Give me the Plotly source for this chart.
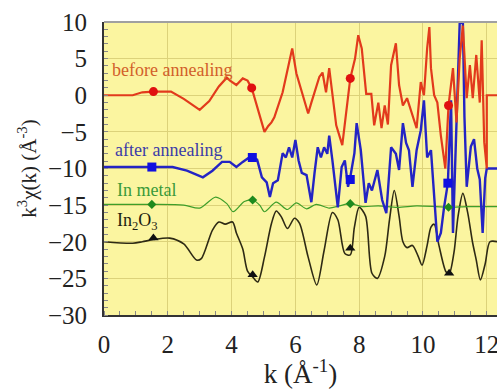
import plotly.graph_objects as go

# ---- data ----
k_before = [0, 0.9, 1.2, 1.55, 2.1, 2.5, 3.0, 3.3, 3.6, 3.85, 3.95, 4.15, 4.35, 4.5, 4.63, 4.9, 5.03, 5.15, 5.25, 5.34,
            5.6, 5.8, 5.9, 6.03, 6.2, 6.4, 6.5, 6.6, 6.75, 6.85, 6.96, 7.06, 7.16, 7.28, 7.47, 7.6, 7.72, 7.87, 7.97, 8.08,
            8.22, 8.38, 8.47, 8.6, 8.7, 8.8, 8.9, 9.0, 9.15, 9.25, 9.37, 9.5, 9.67, 9.8, 9.93, 10.03, 10.13, 10.2, 10.25,
            10.35, 10.45, 10.56, 10.7, 10.8, 10.94, 11.05, 11.15, 11.25, 11.37, 11.47, 11.56, 11.67, 11.78, 11.84, 11.92,
            12.0, 12.0, 12.35]
chi_before = [0, 0, 0.4, 0.5, 0.5, -0.5, -2.0, -0.8, 1.2, 2.4, 2.0, 1.4, 2.3, 2.0, 1.0, -3.1, -5.0, -4.2, -3.7, -3.0,
              0.4, 4.4, 6.4, 3.0, 0.4, -2.5, -1.0, 0.4, 2.5, 3.1, 0.4, 3.7, 0, -4.1, -6.8, -2.3, 2.3, 5.0, 8.2, 6.4,
              0.2, 0.2, -4.1, -1.0, -4.5, -1.4, -4.0, 4.1, 7.1, 1.4, -1.4, -0.4, -2.7, -4.5, 1.8, 0, 6.4, 9.3, 3.7,
              0, -1.0, -5.5, -10, -1.4, 3.7, -3.7, 5.0, 9.5, -0.4, 4.1, -0.4, 5.5, -1.0, 7.5, -6.4,
              -10, 0, 0]

k_after = [0, 1.5, 2.15, 2.6, 3.1, 3.4, 3.7, 3.94, 4.15, 4.35, 4.55, 4.65, 4.8, 4.95, 5.1, 5.2, 5.3, 5.45, 5.6, 5.7,
           5.8, 5.9, 6.0, 6.1, 6.2, 6.35, 6.45, 6.5, 6.6, 6.7, 6.8, 6.9, 7.0, 7.06, 7.16, 7.28, 7.33, 7.45, 7.55, 7.65,
           7.72, 7.85, 7.92, 8.05, 8.2, 8.3, 8.4, 8.57, 8.72, 8.85, 9.0, 9.15, 9.25, 9.37, 9.47, 9.56, 9.67, 9.8, 9.93,
           10.03, 10.13, 10.25, 10.35, 10.45, 10.56, 10.66, 10.78, 10.88, 10.94, 11.05, 11.15, 11.25, 11.3, 11.37, 11.5,
           11.6, 11.7, 11.78, 11.87, 11.95, 12.0, 12.35]
chi_after = [-9.8, -9.8, -9.8, -10.3, -11.2, -10.3, -9.1, -9.1, -9.8, -9.1, -8.5, -8.5, -8.8, -11.2, -11.9, -13.9, -12.0,
             -11.6, -7.9, -8.5, -7.1, -8.5, -6.1, -8.9, -10.6, -10.9, -13.4, -14.6, -10.6, -7.1, -8.5, -7.1, -8.0, -5.5,
             -8.9, -13.0, -15.3, -9.8, -8.9, -12.5, -11.2, -7.9, -3.8, -7.5, -14.7, -12.0, -13.0, -10.2, -14.3, -16.1,
             -7.1, -8.0, -10.2, -3.8, -6.5, -7.5, -12.5, -7.5, -4.8, -0.7, -8.5, -7.5, -14.3, -20.0, -18.8, -15.3, -12.0,
             -0.7, -18.8, -5.0, 9.8, 10.0, -3.0, -12.5, -7.0, -6.0, -10.0, -11.5, -18.8, -11.3, -10.0, -10.0]

k_metal = [0, 1.5, 2.5, 3.0, 3.5, 3.85, 4.05, 4.4, 4.66, 4.88, 5.03, 5.4, 5.75, 6.03, 6.35, 6.65, 7.06, 7.38, 7.72,
           8.1, 8.6, 9.2, 9.8, 10.4, 10.8, 11.4, 12.0, 12.35]
chi_metal = [-14.9, -14.9, -15.0, -15.4, -13.9, -14.8, -15.9, -14.5, -14.3, -15.0, -15.9, -14.6, -15.6, -14.7, -15.5,
             -14.9, -15.4, -15.1, -14.8, -15.2, -15.1, -15.3, -15.1, -15.2, -15.3, -15.2, -15.2, -15.2]

k_oxide = [0, 0.9, 1.2, 1.55, 2.06, 2.5, 2.9, 3.05, 3.4, 3.6, 3.8, 4.03, 4.15, 4.35, 4.5, 4.66, 4.82, 5.03, 5.25, 5.4,
           5.56, 5.75, 5.97, 6.13, 6.4, 6.67, 6.9, 7.16, 7.33, 7.55, 7.72, 7.85, 8.0, 8.2, 8.4, 8.57, 8.8, 8.95, 9.1,
           9.25, 9.37, 9.5, 9.67, 9.85, 9.97, 10.13, 10.25, 10.35, 10.5, 10.72, 10.82, 10.97, 11.1, 11.25, 11.4, 11.55,
           11.67, 11.8, 11.95, 12.1, 12.35]
chi_oxide = [-20.0, -20.2, -20.0, -19.7, -19.5, -20.3, -22.5, -22.3, -18.4, -17.3, -17.6, -17.3, -18.8, -21.0, -24.0,
             -24.8, -25.5, -22.1, -17.5, -15.8, -16.6, -18.2, -16.8, -17.5, -22.1, -25.9, -21.2, -16.0, -17.0, -21.6,
             -21.8, -18.0, -15.3, -16.5, -24.3, -25.0, -22.0, -17.0, -13.0, -16.5, -20.0, -20.8, -20.5, -22.0, -23.2,
             -20.5, -18.0, -17.6, -20.5, -24.1, -24.4, -21.5, -16.5, -13.4, -16.0, -20.0, -22.5, -25.2, -23.0, -20.0,
             -20.0]

mk_before_k = [1.55, 4.63, 7.72, 10.8]
mk_before_y = [0.5, 1.0, 2.3, -1.4]
mk_after_k = [1.5, 4.65, 7.72, 10.78]
mk_after_y = [-9.8, -8.5, -11.5, -12.0]
mk_metal_k = [1.5, 4.66, 7.72, 10.8]
mk_metal_y = [-14.9, -14.3, -14.8, -15.3]
mk_oxide_k = [1.55, 4.66, 7.72, 10.82]
mk_oxide_y = [-19.5, -24.5, -20.9, -24.3]

labels = ["before annealing", "after annealing", "In metal", "In<sub>2</sub>O<sub>3</sub>"]
label_k = [0.19, 0.28, 0.34, 0.34]
label_y = [3.45, -7.5, -12.9, -17.3]

x_ticks = [0, 2, 4, 6, 8, 10, 12]
y_ticks = [10, 5, 0, -5, -10, -15, -20, -25, -30]

# ---- styles ----
c_red = "#E23A1C"
c_blue = "#2424C4"
c_green = "#3E9E2A"
c_black = "#2E2A14"
label_colors = ["#D2602A", "#3C3CA8", "#3A9A3A", "#1E1E10"]
serif = "Liberation Serif, Times New Roman, serif"

def fmt(v):
    return str(v).replace("-", "\u2212")

fig = go.Figure()
fig.add_trace(go.Scatter(x=k_oxide, y=chi_oxide, mode="lines", line=dict(color=c_black, width=1.6, shape="spline", smoothing=0.8)))
fig.add_trace(go.Scatter(x=k_metal, y=chi_metal, mode="lines", line=dict(color=c_green, width=1.2, shape="spline", smoothing=0.8)))
fig.add_trace(go.Scatter(x=k_after, y=chi_after, mode="lines", line=dict(color=c_blue, width=2.4)))
fig.add_trace(go.Scatter(x=k_before, y=chi_before, mode="lines", line=dict(color=c_red, width=2.2)))

fig.add_trace(go.Scatter(x=mk_oxide_k, y=mk_oxide_y, mode="markers", marker=dict(symbol="triangle-up", size=9, color="#111")))
fig.add_trace(go.Scatter(x=mk_metal_k, y=mk_metal_y, mode="markers", marker=dict(symbol="diamond", size=7, color="#1E8A1E")))
fig.add_trace(go.Scatter(x=mk_after_k, y=mk_after_y, mode="markers", marker=dict(symbol="square", size=9, color="#1010E0")))
fig.add_trace(go.Scatter(x=mk_before_k, y=mk_before_y, mode="markers", marker=dict(symbol="circle", size=9, color="#E01010")))

for t, kx, ky, col in zip(labels, label_k, label_y, label_colors):
    fig.add_annotation(x=kx, y=ky, text=t, showarrow=False, xanchor="left", yanchor="middle",
                       font=dict(family=serif, size=18, color=col))

# top border
fig.add_shape(type="line", xref="paper", yref="paper", x0=0, x1=1, y0=1, y1=1,
              line=dict(color="#A0A0A0", width=2))

fig.update_layout(
    width=497, height=389,
    margin=dict(l=104, r=0, t=22, b=74),
    paper_bgcolor="white",
    plot_bgcolor="#FBF5A0",
    showlegend=False,
    font=dict(family=serif, size=25, color="#222"),
)
fig.update_xaxes(
    range=[0, 12.32], tickvals=x_ticks, ticktext=[fmt(v) for v in x_ticks],
    showgrid=True, gridcolor="#DCD27A", gridwidth=1, zeroline=False,
    showline=True, linecolor="#333", linewidth=2, automargin=False,
    ticks="", ticklabelstandoff=6, ticklabeloverflow="allow",
    minor=dict(dtick=0.5, ticks="inside", ticklen=4, tickcolor="#888", showgrid=False),
    title=dict(text="k (Å<sup>-1</sup>)", standoff=2, font=dict(size=27)),
)
fig.update_yaxes(
    range=[-30, 10], tickvals=y_ticks, ticktext=[fmt(v) for v in y_ticks],
    showgrid=True, gridcolor="#DCD27A", gridwidth=1, zeroline=False,
    showline=True, linecolor="#333", linewidth=2, automargin=False,
    ticks="", ticklabelstandoff=10, ticklabeloverflow="allow",
    minor=dict(dtick=1, ticks="inside", ticklen=4, tickcolor="#888", showgrid=False),
    title=dict(text="k<sup>3</sup>χ(k) (Å<sup>-3</sup>)", standoff=6, font=dict(size=21)),
)

fig.write_html("out.html", config={"displayModeBar": False},
               post_script="document.body.style.margin='0';document.body.style.overflow='hidden';")
